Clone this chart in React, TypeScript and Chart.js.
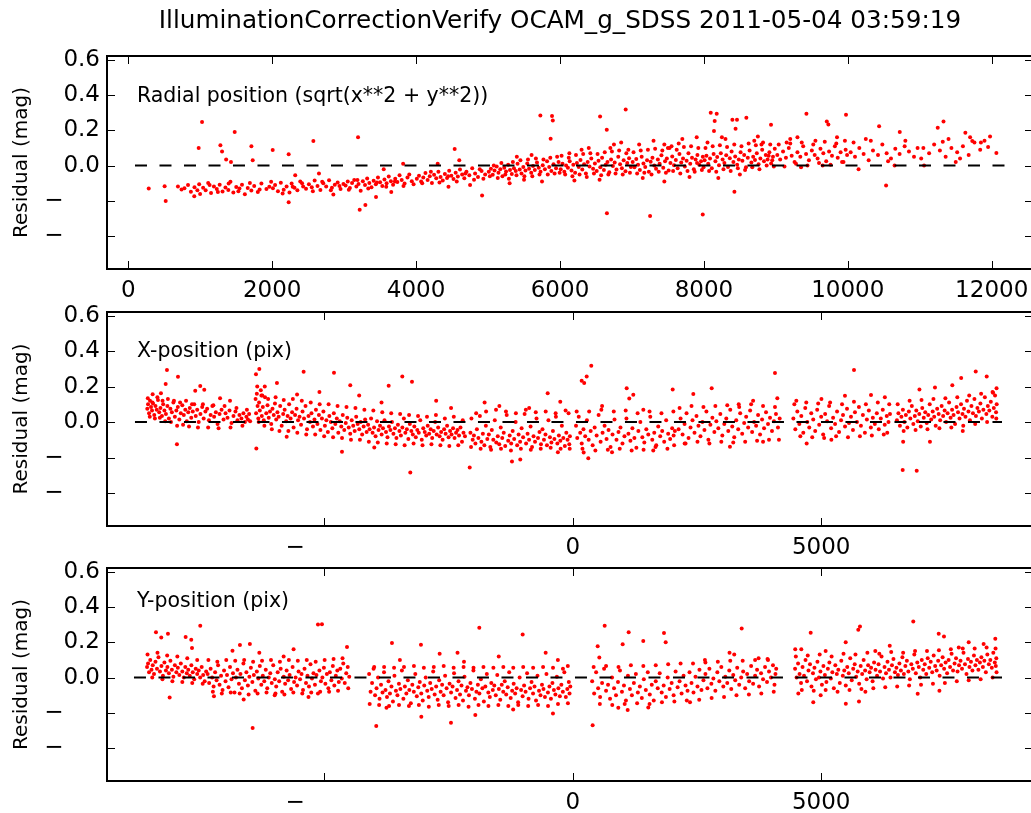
import React, { useEffect, useRef } from 'react';
import { Chart, registerables } from 'chart.js';

Chart.register(...registerables);

const FONT = '"DejaVu Sans", "Bitstream Vera Sans", sans-serif';
const TITLE = 'IlluminationCorrectionVerify OCAM_g_SDSS 2011-05-04 03:59:19';
const Y_LABEL = 'Residual (mag)';
const PANEL_LABELS = ['Radial position (sqrt(x**2 + y**2))', 'X-position (pix)', 'Y-position (pix)'];
const Y_TICKS = [0.6, 0.4, 0.2, 0.0, -0.2, -0.4];
const RADIAL_TICKS = [0, 2000, 4000, 6000, 8000, 10000, 12000];
const POS_TICKS = [-5000, 0, 5000];
const Y_RANGE = [-0.585, 0.62];
const RADIAL_RANGE = [-296, 12574];
const POS_RANGE = [-9376, 9264];
const RADIAL_ZERO = [93, 12254];
const XPOS_ZERO = [-8813, 8640];
const YPOS_ZERO = [-8833, 8640];

const radialPoints: [number, number][] = [
  [284,-0.13],[505,-0.117],[520,-0.2],[690,-0.118],[740,-0.135],[780,-0.128],[830,-0.11],[870,-0.148],[917,-0.173],[920,-0.122],[960,-0.139],[978,0.1],[985,-0.105],[998,-0.16],[1025,0.246],
  [1040,-0.125],[1075,-0.14],[1110,-0.098],[1150,-0.155],[1190,-0.118],[1230,-0.133],[1270,-0.108],[1280,0.115],[1303,0.08],[1310,-0.147],[1350,-0.124],[1360,0.035],[1390,-0.138],[1420,-0.092],[1427,0.02],[1460,-0.152],[1479,0.19],[1500,-0.121],[1545,-0.13],[1580,-0.108],[1620,-0.162],[1660,-0.127],[1710,-0.141],[1711,0.11],[1729,0.03],[1750,-0.115],[1800,-0.149],[1850,-0.101],[1920,-0.133],[1960,-0.12],
  [2007,0.088],[2010,-0.128],[2040,-0.11],[2080,-0.145],[2120,-0.097],[2160,-0.136],[2200,-0.118],[2229,0.064],[2229,-0.208],[2240,-0.152],[2270,-0.102],[2310,-0.125],[2320,-0.055],[2350,-0.14],[2390,-0.09],[2430,-0.118],[2470,-0.131],[2510,-0.106],[2550,-0.122],[2572,0.139],[2590,-0.085],[2630,-0.115],[2650,-0.045],[2670,-0.138],[2710,-0.1],[2750,-0.118],[2790,-0.083],[2830,-0.125],[2850,-0.163],[2870,-0.108],[2910,-0.095],[2950,-0.132],[2990,-0.104],
  [3020,-0.112],[3050,-0.09],[3080,-0.127],[3110,-0.099],[3140,-0.081],[3170,-0.118],[3193,0.161],[3200,-0.104],[3216,-0.25],[3230,-0.142],[3260,-0.088],[3290,-0.11],[3295,-0.223],[3320,-0.073],[3350,-0.098],[3380,-0.122],[3410,-0.086],[3440,-0.105],[3443,-0.177],[3470,-0.068],[3500,-0.094],[3530,-0.115],[3550,-0.02],[3560,-0.079],[3590,-0.1],[3620,-0.062],[3650,-0.088],[3655,-0.15],[3680,-0.109],[3710,-0.074],[3740,-0.093],[3770,-0.055],[3800,-0.082],[3820,0.01],[3840,-0.101],[3880,-0.067],[3940,-0.088],
  [4010,-0.075],[4040,-0.058],[4070,-0.09],[4100,-0.068],[4130,-0.042],[4160,-0.081],[4190,-0.06],[4220,-0.098],[4250,-0.052],[4280,-0.072],[4300,0.01],[4310,-0.035],[4340,-0.064],[4370,-0.085],[4400,-0.048],[4430,-0.07],[4450,-0.12],[4460,-0.029],[4490,-0.058],[4520,-0.076],[4536,0.094],[4550,-0.04],[4580,-0.062],[4600,0.03],[4610,-0.022],[4640,-0.05],[4670,-0.071],[4700,-0.035],[4740,-0.055],[4750,-0.11],[4780,-0.015],[4820,-0.045],[4860,-0.064],[4910,-0.03],[4917,-0.169],[4960,-0.05],
  [5010,-0.035],[5040,-0.018],[5065,-0.052],[5090,-0.028],[5120,-0.005],[5145,-0.04],[5170,-0.02],[5200,-0.06],[5225,-0.012],[5250,-0.033],[5280,0.005],[5300,-0.1],[5305,-0.025],[5330,-0.048],[5360,-0.015],[5385,-0.03],[5400,0.05],[5410,0.01],[5440,-0.022],[5465,-0.045],[5490,-0.008],[5500,-0.08],[5520,-0.028],[5545,0.012],[5570,-0.018],[5600,-0.04],[5605,0.06],[5625,-0.003],[5650,-0.025],[5680,0.018],[5705,-0.012],[5727,0.284],[5730,-0.035],[5750,-0.09],[5760,0.002],[5790,-0.02],[5820,0.025],[5850,-0.008],[5870,0.152],[5880,-0.03],[5889,0.28],[5900,0.255],[5910,0.008],[5945,-0.015],[5980,0.02],
  [6010,-0.02],[6035,0.01],[6060,-0.035],[6085,0.0],[6110,-0.012],[6130,0.07],[6135,0.025],[6160,-0.028],[6185,0.005],[6200,-0.085],[6210,-0.04],[6235,0.015],[6260,-0.008],[6285,0.032],[6300,0.09],[6310,-0.022],[6335,0.008],[6360,-0.045],[6385,0.02],[6400,0.1],[6410,-0.005],[6435,0.04],[6460,-0.018],[6485,0.012],[6510,-0.03],[6535,0.028],[6550,-0.08],[6557,0.278],[6560,-0.01],[6585,0.045],[6610,-0.025],[6635,0.005],[6650,0.203],[6652,-0.27],[6660,0.02],[6685,-0.038],[6710,0.035],[6735,-0.002],[6750,0.12],[6760,0.018],[6785,-0.022],[6810,0.05],[6835,0.008],[6850,0.13],[6860,-0.015],[6885,0.03],[6910,-0.032],[6913,0.317],[6935,0.015],[6960,0.042],[6985,-0.008],
  [7010,0.02],[7035,-0.01],[7060,0.038],[7085,0.005],[7100,0.12],[7110,-0.025],[7135,0.05],[7150,-0.07],[7160,0.012],[7185,-0.008],[7210,0.03],[7235,-0.035],[7252,-0.285],[7260,0.022],[7285,0.045],[7300,0.14],[7310,0.0],[7335,-0.018],[7360,0.035],[7385,0.01],[7410,0.058],[7435,-0.012],[7450,-0.09],[7460,0.025],[7485,0.04],[7500,0.1],[7510,-0.028],[7535,0.015],[7550,0.11],[7560,0.052],[7585,0.002],[7610,0.032],[7635,-0.015],[7660,0.065],[7685,0.018],[7700,0.15],[7710,0.04],[7735,-0.005],[7760,0.028],[7785,0.07],[7800,-0.065],[7810,0.01],[7835,0.045],[7860,-0.02],[7885,0.035],[7900,0.16],[7905,0.015],[7910,0.06],[7935,0.005],[7960,0.025],[7984,-0.276],[7985,0.05],[7995,-0.01],
  [8010,0.03],[8035,0.055],[8050,0.13],[8060,0.01],[8085,0.04],[8095,0.299],[8110,-0.015],[8135,0.065],[8140,0.195],[8150,0.252],[8160,0.025],[8178,0.293],[8185,0.048],[8200,-0.07],[8210,0.002],[8235,0.07],[8260,0.035],[8285,0.015],[8300,0.15],[8310,0.058],[8335,-0.008],[8360,0.042],[8385,0.08],[8396,0.259],[8410,0.02],[8424,-0.148],[8435,0.052],[8440,0.208],[8460,0.259],[8462,0.005],[8485,0.035],[8500,-0.05],[8510,0.075],[8535,0.028],[8560,0.06],[8585,-0.01],[8590,0.27],[8610,0.045],[8635,0.085],[8660,0.018],[8685,0.05],[8700,0.14],[8710,0.032],[8735,0.07],[8760,0.008],[8785,0.04],[8800,0.12],[8810,0.09],[8835,0.025],[8860,0.06],[8885,0.035],[8900,0.055],[8910,0.075],[8933,0.231],[8935,0.012],[8950,0.03],[8960,0.05],[8985,0.095],
  [9020,0.06],[9060,0.035],[9100,0.08],[9140,0.045],[9150,0.13],[9180,0.1],[9200,0.15],[9220,0.055],[9260,0.02],[9300,0.075],[9340,0.05],[9350,-0.01],[9380,0.11],[9420,0.065],[9425,0.293],[9460,0.03],[9500,0.085],[9540,0.06],[9550,0.14],[9580,0.04],[9620,0.095],[9650,0.0],[9660,0.07],[9700,0.025],[9708,0.25],[9730,0.233],[9740,0.08],[9780,0.055],[9820,0.11],[9850,0.16],[9860,0.045],[9900,0.075],[9940,0.02],[9970,0.09],[9975,0.287],[9990,0.06],
  [10040,0.075],[10100,0.05],[10150,-0.02],[10160,0.1],[10220,0.065],[10250,0.15],[10290,0.03],[10350,0.085],[10420,0.06],[10435,0.222],[10480,0.12],[10532,-0.113],[10540,0.07],[10600,0.04],[10650,0.0],[10660,0.095],[10720,0.065],[10722,0.19],[10790,0.11],[10850,0.08],[10920,0.05],[10970,0.1],
  [11050,0.1],[11060,0.0],[11130,0.07],[11200,0.12],[11250,0.214],[11280,0.085],[11330,0.25],[11360,0.05],[11400,0.15],[11440,0.1],[11500,0.02],[11520,0.075],[11600,0.11],[11634,0.186],[11680,0.06],[11700,0.16],[11730,0.139],[11760,0.13],[11840,0.09],[11850,0.131],[11950,0.105],[11977,0.165],[12065,0.071]
];

const radialDense: [number, number][] = [
  [1130,-0.11],[1245,-0.15],[1395,-0.102],[1530,-0.145],[1690,-0.098],[1825,-0.135],[1985,-0.092],[2145,-0.158],[2285,-0.12],[2415,-0.1],[2565,-0.145],[2695,-0.092],[2815,-0.14],[2935,-0.116],[3065,-0.136],[3185,-0.082],[3335,-0.13],[3455,-0.095],[3585,-0.12],[3705,-0.09],[3825,-0.115],[3905,-0.05],[3965,-0.105],[4085,-0.1],[4205,-0.035],[4325,-0.095],[4445,-0.06],[4565,-0.09],[4685,-0.045],[4805,-0.08],[4885,-0.02],[4935,-0.075],
  [5025,-0.06],[5080,0.0],[5135,-0.07],[5185,0.015],[5240,-0.05],[5290,-0.075],[5345,0.02],[5395,-0.055],[5450,0.03],[5505,-0.06],[5555,0.035],[5615,-0.06],[5665,0.04],[5715,-0.05],[5770,0.035],[5830,-0.05],[5865,0.045],[5925,-0.045],[5960,0.05],[5995,-0.04],
  [6022,0.055],[6072,-0.05],[6122,0.045],[6172,-0.06],[6222,0.06],[6272,-0.05],[6322,0.065],[6372,-0.065],[6422,0.07],[6472,-0.045],[6522,0.065],[6572,-0.055],[6622,0.075],[6672,-0.05],[6722,0.08],[6772,-0.045],[6822,0.085],[6872,-0.05],[6922,0.07],[6972,-0.04],[6950,0.09],[6700,0.1],
  [7022,0.075],[7072,-0.045],[7122,0.085],[7172,-0.04],[7222,0.09],[7272,-0.05],[7322,0.095],[7372,-0.035],[7422,0.085],[7472,-0.04],[7522,0.1],[7572,-0.03],[7622,0.09],[7672,-0.045],[7722,0.105],[7772,-0.03],[7822,0.11],[7872,-0.035],[7922,0.1],[7972,-0.025],[7450,0.12],[7650,0.125],
  [8022,0.1],[8072,-0.03],[8122,0.11],[8172,-0.035],[8222,0.115],[8272,-0.02],[8322,0.105],[8372,-0.03],[8422,0.12],[8472,-0.015],[8522,0.11],[8572,-0.025],[8622,0.125],[8672,-0.01],[8722,0.115],[8772,-0.02],[8822,0.13],[8872,0.0],[8922,0.12],[8972,-0.005],[8250,0.16],[8750,0.165],
  [9040,0.12],[9120,-0.005],[9200,0.125],[9280,0.01],[9360,0.13],[9440,0.0],[9520,0.12],[9600,0.015],[9680,0.135],[9760,0.005],[9840,0.125],[9920,0.02],[9960,0.14],[9300,0.16],
  [10080,0.13],[10320,0.14],[10560,0.025],[10800,0.14],[11020,0.04],[11320,0.135],[11560,0.04],[11900,0.14]
];

const xPoints: [number, number][] = [
  [-8565,0.075],[-8550,0.1],[-8530,0.05],[-8510,0.12],[-8490,0.085],[-8470,0.065],[-8457,0.157],[-8450,0.105],[-8425,0.04],[-8400,0.09],[-8375,0.07],[-8350,0.125],[-8325,0.055],[-8300,0.08],[-8290,0.163],[-8270,0.035],[-8245,0.1],[-8220,0.065],[-8195,0.214],[-8190,0.045],[-8169,0.293],[-8160,0.09],[-8130,0.02],[-8100,0.075],[-8070,0.055],[-8040,0.11],[-8010,0.03],[-7980,0.065],[-7968,-0.124],[-7950,0.085],[-7947,0.255],[-7920,0.015],[-7890,0.05],[-7860,0.095],[-7830,0.04],[-7800,0.07],[-7770,0.005],[-7740,0.055],[-7710,0.08],[-7680,0.025],[-7650,0.06],[-7620,0.1],[-7600,0.177],[-7590,0.035],[-7560,0.07],[-7530,0.0],[-7499,0.203],[-7495,0.045],[-7460,0.085],[-7430,0.02],[-7418,0.182],[-7395,0.06],[-7360,0.075],[-7325,0.01],[-7290,0.04],[-7255,0.09],[-7220,0.03],[-7185,0.055],[-7150,-0.01],[-7110,0.045],[-7100,0.135],[-7070,0.07],[-7030,0.015],[-6990,0.05],[-6950,0.025],[-6910,0.065],[-6900,0.12],[-6870,-0.005],[-6830,0.035],[-6790,0.06],[-6750,0.01],[-6710,0.04],[-6670,0.02],[-6630,0.05],[-6600,0.0],[-6570,0.03],[-6540,0.015],[-6515,0.045],[-6495,0.005],
  [-6385,0.13],[-6377,0.27],[-6375,0.05],[-6370,-0.148],[-6360,0.16],[-6345,0.09],[-6330,0.02],[-6315,0.11],[-6310,0.299],[-6300,0.065],[-6280,0.18],[-6260,0.035],[-6250,0.15],[-6240,0.085],[-6220,0.01],[-6200,0.2],[-6195,0.14],[-6170,0.05],[-6145,0.095],[-6120,0.025],[-6095,0.06],[-6070,-0.01],[-6045,0.075],[-6020,0.04],[-5995,0.105],[-5970,0.015],[-5955,0.22],[-5945,0.055],[-5920,0.03],[-5890,0.09],[-5860,-0.02],[-5830,0.045],[-5800,0.07],[-5770,0.005],[-5759,-0.083],[-5740,0.035],[-5710,0.1],[-5680,0.02],[-5650,0.055],[-5620,-0.03],[-5590,0.04],[-5560,0.075],[-5550,0.155],[-5530,0.01],[-5500,0.03],[-5470,-0.015],[-5440,0.06],[-5418,0.284],[-5410,0.02],[-5380,0.09],[-5350,-0.04],[-5320,0.035],[-5290,0.0],[-5260,0.05],[-5230,-0.025],[-5200,0.015],[-5170,0.07],[-5140,-0.01],[-5110,0.04],[-5100,0.17],[-5080,-0.045],[-5050,0.02],[-5020,0.06],[-4990,-0.02],[-4960,0.01],[-4930,-0.055],[-4900,0.035],[-4870,0.0],[-4840,-0.035],[-4810,0.05],[-4807,0.278],[-4780,-0.01],[-4750,0.02],[-4720,-0.06],[-4690,0.005],[-4660,-0.025],[-4646,-0.167],[-4630,0.04],[-4600,-0.045],[-4570,-0.005],[-4540,0.025],[-4510,-0.03],[-4480,-0.065],[-4479,0.208],[-4450,0.01],[-4420,-0.02],[-4390,-0.05],[-4360,0.03],[-4330,-0.01],[-4300,0.15],[-4298,-0.04],[-4270,0.0],[-4240,-0.07],[-4210,-0.025],[-4180,0.015],[-4150,-0.055],[-4120,-0.015],[-4090,-0.04],[-4060,0.02],[-4030,-0.06],[-4000,-0.03],[-3996,-0.143],[-3970,-0.08],[-3940,0.005],[-3910,-0.045],[-3880,-0.02],[-3850,0.11],[-3848,-0.07],[-3820,-0.035],[-3790,0.01],[-3760,-0.055],[-3730,-0.085],[-3706,0.205],[-3700,-0.025],[-3670,-0.045],[-3640,0.0],[-3610,-0.065],[-3580,-0.035],[-3550,-0.09],[-3520,-0.015],[-3490,-0.05],[-3460,-0.075],[-3432,0.257],[-3430,-0.03],[-3400,0.02],[-3370,-0.06],[-3340,-0.04],[-3310,-0.095],[-3280,-0.01],[-3271,-0.284],[-3250,-0.05],[-3237,0.227],[-3220,-0.07],[-3190,-0.025],[-3160,-0.085],[-3130,-0.045],[-3100,-0.06],[-3070,0.01],[-3040,-0.1],[-3010,-0.035],[-2980,-0.055],[-2950,-0.075],[-2920,-0.02],[-2890,-0.065],[-2860,-0.04],[-2830,-0.09],[-2800,-0.05],[-2770,0.0],[-2750,0.12],[-2740,-0.07],[-2710,-0.03],[-2680,-0.08],[-2650,-0.055],[-2620,-0.1],[-2590,-0.04],[-2560,-0.065],[-2530,-0.02],[-2500,-0.085],[-2470,-0.05],[-2450,0.08],[-2440,-0.07],[-2410,-0.035],[-2380,-0.09],[-2350,-0.06],[-2320,-0.045],[-2290,-0.075],[-2260,-0.03],[-2230,-0.11],[-2200,-0.06],[-2170,-0.08],
  [-2075,-0.255],[-2060,-0.06],[-2040,0.02],[-2015,-0.1],[-1990,-0.075],[-1960,-0.12],[-1930,-0.04],[-1900,-0.09],[-1870,0.035],[-1840,-0.11],[-1810,-0.065],[-1780,-0.13],[-1775,0.11],[-1750,-0.02],[-1720,-0.095],[-1690,-0.07],[-1660,-0.14],[-1630,-0.045],[-1600,-0.1],[-1570,0.01],[-1540,-0.115],[-1510,-0.08],[-1480,-0.125],[-1478,0.09],[-1450,-0.03],[-1420,-0.09],[-1390,-0.06],[-1360,-0.135],[-1330,0.04],[-1300,-0.105],[-1270,-0.075],[-1240,-0.12],[-1224,-0.222],[-1210,-0.05],[-1180,-0.095],[-1150,0.0],[-1120,-0.13],[-1090,-0.07],[-1060,-0.11],[-1057,-0.211],[-1030,-0.035],[-1000,-0.085],[-970,0.045],[-940,-0.12],[-910,-0.065],[-880,-0.1],[-878,0.08],[-850,-0.025],[-820,-0.14],[-790,-0.08],[-760,-0.11],[-730,0.02],[-700,-0.09],[-670,-0.055],[-640,-0.125],[-610,-0.04],[-580,-0.1],[-550,-0.07],[-520,-0.13],[-505,0.163],[-490,0.01],[-460,-0.085],[-430,-0.115],[-400,-0.05],[-370,-0.095],[-340,0.03],[-310,-0.12],[-300,-0.17],[-280,-0.075],[-252,0.115],[-250,-0.105],[-220,-0.02],[-190,-0.09],[-160,-0.135],[-130,-0.06],[-105,-0.1],[-85,0.05],[-70,-0.125],[-58,-0.08],
  [65,-0.02],[90,-0.09],[120,0.03],[150,-0.06],[179,0.233],[180,-0.12],[215,-0.04],[219,-0.171],[230,0.22],[250,-0.08],[280,0.257],[285,0.01],[312,-0.203],[320,-0.1],[360,-0.05],[372,0.317],[400,-0.13],[440,-0.03],[480,-0.075],[520,0.04],[560,-0.11],[590,0.09],[600,-0.06],[640,-0.02],[680,-0.095],[720,-0.045],[760,-0.14],[790,-0.17],[800,-0.07],[840,0.015],[880,-0.1],[920,-0.055],[960,-0.03],[1000,-0.12],[1040,-0.08],[1080,0.02],[1085,0.19],[1120,-0.065],[1137,0.133],[1160,-0.105],[1200,-0.035],[1218,0.154],[1240,-0.09],[1280,-0.145],[1320,-0.05],[1360,0.0],[1400,-0.085],[1420,0.07],[1440,-0.115],[1480,-0.04],[1520,-0.07],[1560,0.03],[1600,-0.1],[1620,-0.16],[1640,-0.06],[1680,-0.13],[1720,-0.025],[1760,-0.08],[1800,-0.05],[1840,-0.11],[1880,0.01],[1920,-0.065],[1960,-0.095],[2000,-0.035],[2011,0.184],[2030,-0.075],[2055,-0.05],
  [2130,-0.04],[2170,0.02],[2210,-0.07],[2250,-0.01],[2252,-0.12],[2290,0.05],[2330,-0.09],[2370,-0.03],[2410,0.01],[2426,0.158],[2450,-0.06],[2490,0.035],[2530,-0.02],[2570,-0.08],[2610,0.0],[2650,-0.045],[2690,0.06],[2730,-0.1],[2770,-0.015],[2796,0.19],[2810,0.025],[2850,-0.055],[2890,0.005],[2930,-0.035],[2970,0.045],[3010,-0.075],[3050,-0.01],[3090,0.02],[3130,-0.05],[3164,-0.139],[3170,0.07],[3210,-0.025],[3250,-0.085],[3290,0.01],[3330,-0.04],[3340,0.1],[3370,0.05],[3410,-0.065],[3450,-0.005],[3490,0.03],[3530,-0.03],[3570,0.065],[3610,-0.055],[3630,0.12],[3650,0.0],[3690,-0.02],[3730,0.04],[3770,-0.07],[3810,0.015],[3830,-0.11],[3850,-0.035],[3890,0.055],[3930,-0.01],[3970,0.025],[4010,-0.05],[4050,0.005],[4070,0.276],[4090,0.045],[4117,0.135],[4130,-0.03],[4165,0.02],
  [4440,0.02],[4480,-0.04],[4500,0.12],[4520,0.06],[4560,-0.01],[4600,0.035],[4640,-0.06],[4680,0.08],[4708,-0.12],[4720,0.0],[4760,-0.03],[4800,0.05],[4840,0.015],[4880,-0.05],[4920,0.07],[4960,-0.015],[5000,0.03],[5005,0.13],[5040,-0.07],[5080,0.045],[5120,0.005],[5160,0.09],[5200,-0.035],[5205,-0.1],[5240,0.025],[5280,-0.01],[5320,0.06],[5360,-0.055],[5400,0.01],[5440,0.04],[5479,0.148],[5480,-0.025],[5520,0.075],[5560,-0.005],[5600,0.03],[5640,-0.045],[5661,0.293],[5680,0.055],[5720,0.0],[5760,0.085],[5800,-0.02],[5840,0.04],[5880,-0.06],[5920,0.015],[5960,0.065],[6000,-0.03],[6003,0.152],[6040,0.025],[6080,-0.01],[6120,0.05],[6160,-0.04],[6200,0.02],[6240,0.07],[6280,-0.015],[6282,0.14],[6320,0.035],[6355,0.0],[6385,0.045],
  [6525,0.01],[6555,0.05],[6585,-0.02],[6615,0.03],[6641,-0.269],[6645,0.07],[6650,-0.11],[6675,0.0],[6705,0.04],[6735,-0.03],[6765,0.06],[6795,0.02],[6825,0.09],[6855,-0.01],[6885,0.035],[6915,0.065],[6923,-0.274],[6945,0.005],[6975,0.045],[6978,0.184],[7005,-0.025],[7035,0.08],[7065,0.025],[7095,0.055],[7125,-0.005],[7155,0.04],[7185,0.1],[7190,-0.11],[7215,0.015],[7245,0.06],[7275,0.03],[7291,0.195],[7305,-0.02],[7335,0.075],[7365,0.045],[7395,0.01],[7425,0.09],[7455,0.035],[7485,0.065],[7515,0.0],[7545,0.05],[7575,0.11],[7605,0.025],[7635,0.07],[7640,0.208],[7665,0.04],[7695,-0.01],[7725,0.085],[7755,0.055],[7785,0.02],[7815,0.1],[7818,0.248],[7845,0.045],[7850,-0.05],[7875,0.075],[7905,0.03],[7935,0.12],[7965,0.06],[7995,0.01],[8025,0.09],[8055,0.05],[8085,0.13],[8111,0.285],[8115,0.035],[8145,0.08],[8175,0.06],[8205,0.105],[8235,0.02],[8265,0.07],[8295,0.14],[8325,0.045],[8332,0.257],[8355,0.09],[8385,0.065],[8415,0.115],[8445,0.03],[8450,0.17],[8475,0.08],[8500,0.15],[8520,0.055],[8530,0.19],[8533,0.1]
];

const xDense: [number, number][] = [
  [-8555,0.135],[-8515,0.03],[-8462,0.11],[-8412,0.02],[-8362,0.14],[-8312,0.025],[-8258,0.12],[-8205,0.005],[-8150,0.13],[-8088,0.0],[-8028,0.12],[-7965,-0.02],[-7905,0.11],[-7845,-0.015],[-7785,0.12],[-7725,-0.025],[-7665,0.1],[-7545,-0.03],[-7445,0.1],[-7340,-0.03],[-7235,0.095],[-7130,-0.035],[-7010,0.09],[-6890,-0.03],[-6770,0.08],[-6650,-0.02],[-6560,0.07],
  [-6352,0.2],[-6322,0.0],[-6268,0.15],[-6208,-0.02],[-6132,0.13],[-6058,-0.04],[-5982,0.14],[-5905,-0.05],[-5818,0.125],[-5725,-0.05],[-5635,0.13],[-5545,-0.06],[-5455,0.12],[-5365,-0.07],[-5275,0.11],[-5185,-0.07],[-5095,0.1],[-5005,-0.08],[-4915,0.1],[-4825,-0.085],[-4735,0.09],[-4645,-0.09],[-4555,0.085],[-4465,-0.1],[-4375,0.08],[-4285,-0.1],[-4195,0.07],[-4105,-0.11],[-4015,0.065],[-3925,-0.115],[-3835,0.055],[-3745,-0.12],[-3655,0.05],[-3565,-0.125],[-3475,0.045],[-3385,-0.13],[-3295,0.04],[-3205,-0.12],[-3115,0.035],[-3025,-0.13],[-2935,0.03],[-2845,-0.125],[-2755,0.04],[-2665,-0.13],[-2575,0.02],[-2485,-0.135],[-2395,0.03],[-2305,-0.13],[-2215,0.01],
  [-2048,-0.14],[-1945,0.05],[-1855,-0.15],[-1745,0.06],[-1645,-0.155],[-1545,0.07],[-1445,-0.15],[-1345,0.06],[-1245,-0.16],[-1145,0.05],[-1045,-0.15],[-945,0.07],[-845,-0.155],[-745,0.055],[-645,-0.15],[-545,0.06],[-445,-0.145],[-345,0.05],[-245,-0.15],[-145,0.065],[-62,-0.15],
  [78,0.06],[195,-0.15],[330,0.06],[455,-0.16],[575,0.07],[705,-0.155],[825,0.06],[945,-0.15],[1065,0.065],[1185,-0.16],[1305,0.05],[1425,-0.155],[1545,0.06],[1665,-0.14],[1785,0.05],[1905,-0.15],[2025,0.06],[2040,-0.13],
  [2150,0.08],[2270,-0.12],[2390,0.09],[2510,-0.11],[2630,0.085],[2750,-0.12],[2870,0.09],[2990,-0.11],[3110,0.095],[3230,-0.115],[3350,0.085],[3470,-0.11],[3590,0.1],[3710,-0.105],[3830,0.09],[3950,-0.1],[4070,0.085],[4150,-0.1],
  [4460,0.1],[4580,-0.08],[4700,0.11],[4820,-0.085],[4940,0.105],[5060,-0.09],[5180,0.11],[5300,-0.08],[5420,0.1],[5540,-0.085],[5660,0.115],[5780,-0.08],[5900,0.1],[6020,-0.075],[6140,0.11],[6260,-0.07],[6370,0.1],[6330,-0.06],
  [6540,0.1],[6660,-0.05],[6780,0.12],[6900,-0.045],[7020,0.125],[7140,-0.04],[7260,0.13],[7380,-0.035],[7500,0.135],[7620,-0.03],[7740,0.14],[7860,-0.02],[7980,0.15],[8100,-0.01],[8220,0.16],[8340,0.0],[8460,0.165],[8525,0.02]
];

const yPoints: [number, number][] = [
  [-8570,0.06],[-8550,0.08],[-8530,0.03],[-8505,0.1],[-8480,0.045],[-8455,0.07],[-8430,0.02],[-8400,0.09],[-8390,0.257],[-8370,0.05],[-8340,0.115],[-8310,0.035],[-8284,0.227],[-8280,0.065],[-8250,0.01],[-8220,0.085],[-8190,0.04],[-8160,0.06],[-8149,0.248],[-8130,0.025],[-8115,-0.113],[-8100,0.095],[-8070,0.045],[-8040,0.005],[-8010,0.07],[-7980,0.03],[-7950,0.055],[-7920,0.015],[-7890,0.08],[-7860,0.035],[-7830,0.0],[-7800,0.06],[-7793,0.229],[-7770,0.025],[-7740,0.045],[-7710,0.01],[-7680,0.214],[-7678,0.07],[-7665,0.167],[-7650,0.03],[-7620,-0.01],[-7590,0.05],[-7560,0.02],[-7530,0.04],[-7500,0.0],[-7499,0.293],[-7470,0.06],[-7440,0.015],[-7410,-0.02],[-7380,0.035],
  [-7350,0.02],[-7320,-0.03],[-7290,0.05],[-7260,0.0],[-7230,-0.05],[-7223,-0.105],[-7200,0.03],[-7170,-0.015],[-7140,0.07],[-7110,-0.04],[-7080,0.01],[-7050,-0.07],[-7020,0.04],[-6990,-0.02],[-6960,0.015],[-6930,-0.055],[-6900,0.06],[-6870,-0.01],[-6850,0.152],[-6840,0.025],[-6810,-0.085],[-6780,0.0],[-6750,0.045],[-6720,-0.035],[-6700,0.185],[-6690,0.02],[-6660,-0.06],[-6630,0.08],[-6625,-0.124],[-6600,-0.015],[-6570,0.03],[-6540,-0.045],[-6510,0.005],[-6500,0.19],[-6480,0.055],[-6450,-0.025],[-6444,-0.285],[-6420,0.015],[-6390,-0.075],[-6360,0.035],[-6330,-0.005],[-6310,0.14],[-6300,0.065],[-6270,-0.04],[-6240,0.01],[-6210,-0.02],[-6180,0.045],[-6150,-0.06],[-6120,0.0],[-6090,0.025],[-6060,-0.03],[-6030,0.07],[-6000,-0.1],[-5998,-0.01],[-5970,-0.05],[-5940,0.03],[-5910,-0.02],[-5880,0.05],[-5850,-0.08],[-5820,0.12],[-5818,0.005],[-5790,-0.035],[-5760,0.04],[-5730,-0.015],[-5700,0.015],[-5670,-0.065],[-5640,0.06],[-5620,0.16],[-5610,-0.025],[-5580,0.0],[-5550,-0.045],[-5520,0.035],[-5490,-0.01],[-5460,0.02],[-5430,-0.07],[-5400,0.05],[-5370,-0.03],[-5340,0.01],[-5320,-0.11],[-5310,-0.05],[-5280,0.075],[-5250,-0.005],[-5220,0.025],[-5190,-0.04],[-5160,0.015],[-5129,0.3],[-5130,-0.09],[-5100,0.04],[-5070,-0.02],[-5049,0.302],[-5040,0.0],[-5010,0.055],[-4980,-0.035],[-4950,0.02],[-4920,-0.06],[-4890,0.03],[-4860,-0.015],[-4830,0.065],[-4800,-0.045],[-4770,0.01],[-4740,0.04],[-4710,-0.025],[-4680,0.05],[-4650,-0.005],[-4620,0.08],[-4590,-0.03],[-4560,0.025],[-4545,0.173],[-4530,0.06],[-4500,0.005],
  [-4100,0.02],[-4070,-0.08],[-4040,-0.03],[-4010,0.05],[-3980,-0.1],[-3956,-0.274],[-3950,-0.06],[-3920,0.0],[-3890,-0.12],[-3860,-0.04],[-3830,-0.085],[-3800,0.03],[-3770,-0.07],[-3750,-0.17],[-3740,-0.11],[-3710,-0.02],[-3680,-0.09],[-3650,-0.05],[-3640,0.195],[-3620,-0.135],[-3590,0.01],[-3560,-0.075],[-3530,-0.1],[-3500,-0.035],[-3480,0.1],[-3470,-0.065],[-3440,0.04],[-3410,-0.12],[-3380,-0.05],[-3350,-0.09],[-3320,-0.015],[-3290,-0.07],[-3260,-0.145],[-3230,-0.04],[-3200,-0.08],[-3170,0.02],[-3140,-0.105],[-3110,-0.055],[-3080,-0.025],[-3056,0.186],[-3050,-0.09],[-3049,-0.222],[-3020,-0.13],[-2990,-0.045],[-2960,0.0],[-2930,-0.075],[-2900,-0.11],[-2870,-0.03],[-2840,-0.065],[-2810,0.035],[-2780,-0.095],[-2750,-0.05],[-2720,-0.125],[-2690,-0.015],[-2680,0.135],[-2660,-0.08],[-2630,-0.04],[-2600,-0.1],[-2570,0.01],[-2540,-0.06],[-2510,-0.14],[-2480,-0.035],[-2452,-0.255],[-2450,-0.085],[-2420,-0.05],[-2390,0.025],[-2360,-0.115],[-2330,-0.07],[-2320,0.141],[-2300,-0.02],[-2270,-0.095],[-2240,-0.045],[-2210,-0.13],[-2190,0.09],[-2180,0.005],[-2150,-0.075],[-2120,-0.055],[-2090,-0.1],[-2060,-0.03],[-2030,-0.065],[-2000,0.04],[-1970,-0.12],[-1962,-0.212],[-1940,-0.08],[-1910,-0.04],[-1882,0.282],[-1880,-0.09],[-1850,-0.01],[-1820,-0.06],[-1790,-0.135],[-1760,-0.05],[-1730,0.02],[-1700,-0.085],[-1670,-0.11],[-1640,-0.03],[-1610,-0.07],[-1580,-0.045],[-1550,-0.1],[-1520,0.015],[-1490,0.12],[-1488,-0.065],[-1460,-0.125],[-1430,-0.04],[-1400,-0.08],[-1370,-0.02],[-1340,-0.095],[-1310,-0.055],[-1280,0.03],[-1250,-0.115],[-1220,-0.075],[-1200,-0.18],[-1190,-0.035],[-1160,-0.09],[-1130,-0.06],[-1100,-0.14],[-1070,0.0],[-1040,-0.07],[-1010,-0.105],[-1009,0.244],[-980,-0.045],[-950,-0.08],[-920,0.025],[-890,-0.12],[-860,-0.06],[-830,-0.025],[-800,-0.09],[-770,-0.05],[-740,-0.13],[-710,0.01],[-680,-0.075],[-650,-0.1],[-620,-0.04],[-590,-0.065],[-560,-0.11],[-546,0.141],[-530,0.02],[-500,-0.085],[-470,-0.05],[-440,-0.12],[-410,-0.03],[-399,-0.203],[-380,-0.07],[-350,-0.095],[-320,0.005],[-300,0.1],[-290,-0.06],[-260,-0.105],[-230,-0.04],[-200,-0.08],[-170,0.03],[-140,-0.11],[-110,-0.065],[-100,0.065],[-80,-0.025],[-65,-0.09],[-50,-0.05],
  [390,-0.02],[400,-0.27],[430,-0.09],[470,0.03],[501,0.178],[510,-0.06],[534,0.113],[550,-0.11],[590,-0.03],[630,0.05],[642,0.293],[670,-0.075],[710,-0.04],[750,-0.12],[790,0.0],[830,-0.06],[870,-0.1],[910,-0.025],[916,-0.171],[950,0.04],[990,-0.08],[1004,0.188],[1030,-0.045],[1070,-0.13],[1105,-0.184],[1110,0.01],[1125,0.257],[1150,-0.065],[1190,-0.1],[1230,-0.03],[1270,0.02],[1310,-0.085],[1350,-0.05],[1390,-0.115],[1419,0.207],[1430,-0.01],[1470,-0.07],[1510,0.03],[1520,-0.169],[1550,-0.095],[1590,-0.04],[1630,-0.13],[1670,-0.02],[1710,-0.06],[1750,0.025],[1790,-0.085],[1830,-0.045],[1836,0.252],[1870,0.2],[1875,-0.11],[1910,0.0],[1950,-0.065],[1990,-0.03],[2030,-0.1],[2070,0.035],[2110,-0.055],[2150,-0.02],[2190,-0.09],[2230,0.01],[2270,-0.045],[2310,-0.075],[2350,0.03],[2360,-0.14],[2390,-0.03],[2430,-0.085],[2470,0.005],[2510,-0.05],[2550,0.045],[2590,-0.07],[2630,-0.015],[2660,0.1],[2670,0.02],[2710,-0.06],[2750,0.05],[2790,-0.035],[2830,-0.005],[2870,-0.075],[2910,0.03],[2950,-0.02],[2990,0.06],[3030,-0.05],[3070,0.005],[3110,-0.03],[3150,0.04],[3155,0.14],[3190,-0.065],[3230,0.015],[3250,0.13],[3270,-0.015],[3310,0.055],[3350,-0.04],[3390,0.0],[3400,0.278],[3430,0.035],[3470,-0.06],[3510,0.02],[3550,-0.02],[3590,0.065],[3630,-0.035],[3670,0.01],[3710,0.045],[3740,0.11],[3750,-0.05],[3790,0.025],[3830,-0.01],[3870,0.06],[3910,-0.025],[3930,0.1],[3950,0.035],[3990,0.0],[4030,0.07],[4060,-0.04],[4080,0.02],[4095,0.05],
  [4475,0.05],[4478,0.16],[4505,0.0],[4535,0.08],[4540,-0.09],[4565,0.02],[4595,-0.03],[4600,0.16],[4625,0.06],[4655,0.01],[4685,0.1],[4715,-0.02],[4745,0.04],[4775,0.075],[4789,0.254],[4805,-0.05],[4835,0.025],[4841,-0.139],[4865,0.055],[4895,-0.01],[4925,0.09],[4955,0.0],[4985,0.035],[4990,-0.1],[5015,-0.04],[5045,0.065],[5075,0.015],[5090,0.15],[5105,-0.025],[5135,0.05],[5165,0.085],[5195,-0.005],[5225,0.03],[5255,-0.06],[5285,0.07],[5315,0.02],[5345,0.045],[5375,-0.03],[5405,0.095],[5435,0.01],[5465,0.04],[5494,0.2],[5495,-0.045],[5496,-0.148],[5525,0.06],[5555,0.025],[5585,0.11],[5615,-0.015],[5645,0.05],[5675,0.075],[5705,0.005],[5735,0.035],[5747,0.27],[5761,-0.135],[5765,-0.035],[5781,0.289],[5795,0.065],[5825,0.02],[5855,0.1],[5885,0.04],[5890,-0.08],[5915,-0.01],[5945,0.07],[5975,0.03],[6005,0.055],[6035,-0.02],[6065,0.085],[6090,0.15],[6095,0.045],[6125,0.01],[6155,0.075],[6185,0.035],[6215,0.12],[6245,-0.005],[6275,0.06],[6305,0.025],[6335,0.09],[6365,0.045],[6380,0.18],[6395,0.0],[6425,0.07],[6455,0.105],[6485,0.03],[6515,0.055],[6545,0.015],[6575,0.08],[6605,0.04],[6635,0.115],[6665,0.02],[6695,0.065],[6725,0.095],[6755,0.035],[6785,-0.01],[6815,0.075],[6845,0.05],[6854,0.317],[6875,0.13],[6905,0.025],[6935,0.085],[6943,-0.092],[6965,0.06],[6995,0.0],[7025,0.1],[7055,0.045],[7085,0.075],[7115,0.02],[7145,0.11],[7175,0.055],[7205,0.09],[7235,0.03],[7265,0.125],[7295,0.065],[7325,0.04],[7355,0.095],[7366,0.248],[7380,-0.075],[7385,0.01],[7415,0.07],[7445,0.115],[7472,0.233],[7475,0.05],[7505,0.085],[7535,0.025],[7565,0.1],[7595,0.06],[7625,0.135],[7655,0.04],[7685,0.08],[7715,0.11],[7745,0.035],[7770,0.17],[7775,0.07],[7805,0.095],[7835,0.05],[7865,0.14],[7895,0.075],[7925,0.02],[7955,0.105],[7970,0.2],[7985,0.06],[8015,0.09],[8045,0.04],[8075,0.125],[8105,0.07],[8135,0.1],[8165,0.045],[8195,0.085],[8225,0.115],[8255,0.06],[8270,0.19],[8285,0.095],[8315,0.03],[8345,0.13],[8375,0.075],[8405,0.1],[8435,0.055],[8465,0.14],[8495,0.085],[8505,0.22],[8515,0.065],[8525,0.11]
];

const yDense: [number, number][] = [
  [-8560,0.13],[-8465,0.0],[-8360,0.14],[-8260,-0.01],[-8165,0.125],[-8060,-0.02],[-7960,0.12],[-7860,-0.025],[-7760,0.11],[-7660,-0.03],[-7560,0.1],[-7450,-0.035],
  [-7335,0.1],[-7245,-0.08],[-7155,0.09],[-7065,-0.09],[-6975,0.1],[-6885,-0.085],[-6795,0.095],[-6705,-0.09],[-6615,0.1],[-6525,-0.095],[-6435,0.09],[-6345,-0.09],[-6255,0.095],[-6165,-0.085],[-6075,0.1],[-5985,-0.09],[-5895,0.09],[-5805,-0.095],[-5715,0.1],[-5625,-0.085],[-5535,0.095],[-5445,-0.09],[-5355,0.1],[-5265,-0.085],[-5175,0.09],[-5085,-0.08],[-4995,0.1],[-4905,-0.08],[-4815,0.105],[-4725,-0.075],[-4635,0.11],[-4520,-0.06],
  [-4088,-0.15],[-3998,0.06],[-3898,-0.155],[-3798,0.06],[-3698,-0.16],[-3598,0.055],[-3498,-0.155],[-3398,0.06],[-3298,-0.16],[-3198,0.065],[-3098,-0.155],[-2998,0.055],[-2898,-0.165],[-2798,0.06],[-2698,-0.155],[-2598,0.065],[-2498,-0.16],[-2398,0.055],[-2298,-0.155],[-2198,0.06],[-2098,-0.165],[-1998,0.055],[-1898,-0.155],[-1798,0.06],[-1698,-0.16],[-1598,0.055],[-1498,-0.155],[-1398,0.06],[-1298,-0.16],[-1198,0.055],[-1098,-0.155],[-998,0.06],[-898,-0.16],[-798,0.055],[-698,-0.155],[-598,0.06],[-498,-0.16],[-398,0.055],[-298,-0.15],[-198,0.05],[-98,-0.145],
  [420,0.06],[545,-0.15],[670,0.065],[795,-0.155],[920,0.06],[1045,-0.15],[1170,0.07],[1295,-0.145],[1420,0.065],[1545,-0.15],[1670,0.07],[1795,-0.14],[1920,0.075],[2045,-0.135],[2170,0.08],[2295,-0.13],[2420,0.08],[2545,-0.125],[2670,0.085],[2795,-0.115],[2920,0.09],[3045,-0.11],[3170,0.095],[3295,-0.1],[3420,0.095],[3545,-0.095],[3670,0.1],[3795,-0.09],[3920,0.105],[4045,-0.08],
  [4490,0.12],[4610,-0.07],[4730,0.125],[4850,-0.075],[4970,0.13],[5090,-0.07],[5210,0.12],[5330,-0.08],[5450,0.135],[5570,-0.07],[5690,0.13],[5810,-0.065],[5930,0.14],[6050,-0.06],[6170,0.135],[6290,-0.055],[6410,0.145],[6530,-0.05],[6650,0.14],[6770,-0.045],[6890,0.15],[7010,-0.04],[7130,0.15],[7250,-0.035],[7370,0.155],[7490,-0.03],[7610,0.16],[7730,-0.02],[7850,0.165],[7970,-0.015],[8090,0.165],[8210,-0.01],[8330,0.17],[8450,0.0],[8510,0.165],[8530,0.03]
];

type Panel = {
  points: [number, number][];
  ticks: number[];
  range: number[];
  zero: number[];
  label: string;
  top: number;
  bottom: number;
  labelDy: number;
  showTitle: boolean;
};

const PANELS: Panel[] = [
  { points: radialPoints.concat(radialDense), ticks: RADIAL_TICKS, range: RADIAL_RANGE, zero: RADIAL_ZERO, label: PANEL_LABELS[0], top: 56, bottom: 269, labelDy: 46, showTitle: true },
  { points: xPoints.concat(xDense), ticks: POS_TICKS, range: POS_RANGE, zero: XPOS_ZERO, label: PANEL_LABELS[1], top: 312, bottom: 526, labelDy: 45, showTitle: false },
  { points: yPoints.concat(yDense), ticks: POS_TICKS, range: POS_RANGE, zero: YPOS_ZERO, label: PANEL_LABELS[2], top: 568, bottom: 781, labelDy: 38.5, showTitle: false },
];

const W = 1031;
const H = 813;
const CANVAS_W = 1040;
const AREA_RIGHT = 1033;
const X_AXIS_H = 30;
const Y_AXIS_W = 107;
const TICK_LEN = 8;

function buildConfig(p: Panel): any {
  const framePlugin = {
    id: 'frameTicks',
    afterDatasetsDraw(chart: any) {
      const { ctx, chartArea } = chart;
      const { left, right, top, bottom } = chartArea;
      const xs = chart.scales.x;
      const ys = chart.scales.y;
      ctx.save();
      ctx.strokeStyle = '#000';
      ctx.lineWidth = 1;
      ctx.beginPath();
      p.ticks.forEach((v) => {
        const px = Math.round(xs.getPixelForValue(v)) + 0.5;
        ctx.moveTo(px, bottom);
        ctx.lineTo(px, bottom - TICK_LEN);
        ctx.moveTo(px, top);
        ctx.lineTo(px, top + TICK_LEN);
      });
      Y_TICKS.forEach((v) => {
        const py = Math.round(ys.getPixelForValue(v)) + 0.5;
        ctx.moveTo(left, py);
        ctx.lineTo(left + TICK_LEN, py);
        ctx.moveTo(right, py);
        ctx.lineTo(right - TICK_LEN, py);
      });
      ctx.stroke();
      ctx.lineWidth = 2;
      ctx.strokeRect(left, top, right - left, bottom - top);
      ctx.fillStyle = '#000';
      ctx.font = `20.5px ${FONT}`;
      ctx.textAlign = 'left';
      ctx.textBaseline = 'alphabetic';
      ctx.fillText(p.label, left + 30, top + p.labelDy);
      if (p.showTitle) {
        ctx.font = `24.7px ${FONT}`;
        ctx.textAlign = 'center';
        ctx.fillText(TITLE, 560, 28);
      }
      ctx.restore();
    },
  };

  return {
    type: 'scatter',
    data: {
      datasets: [
        {
          type: 'line',
          data: [{ x: p.zero[0], y: 0 }, { x: p.zero[1], y: 0 }],
          borderColor: '#000',
          borderWidth: 2,
          borderDash: [12, 12.5],
          pointRadius: 0,
          showLine: true,
          fill: false,
          order: 0,
        },
        {
          type: 'scatter',
          data: p.points.map(([x, y]) => ({ x, y })),
          backgroundColor: '#ff0000',
          borderWidth: 0,
          pointRadius: 2.0,
          pointHoverRadius: 0,
          order: 1,
        },
      ],
    },
    options: {
      animation: false,
      responsive: false,
      events: [],
      layout: { padding: { top: p.top, bottom: H - p.bottom - X_AXIS_H, left: 0, right: CANVAS_W - AREA_RIGHT } },
      plugins: { legend: { display: false }, tooltip: { enabled: false }, title: { display: false } },
      scales: {
        x: {
          type: 'linear',
          min: p.range[0],
          max: p.range[1],
          grid: { display: false, drawTicks: true, tickLength: 8 },
          border: { display: false },
          ticks: {
            color: '#000',
            font: { family: FONT, size: 23 },
            padding: 0,
            autoSkip: false,
            maxRotation: 0,
            callback: (v: number) => (v < 0 ? '\u2212\u2007\u2007\u2007\u2007' : String(v)),
          },
          afterBuildTicks: (s: any) => { s.ticks = p.ticks.map((v) => ({ value: v })); },
          afterFit: (s: any) => { s.height = X_AXIS_H; },
        },
        y: {
          type: 'linear',
          position: 'left',
          min: Y_RANGE[0],
          max: Y_RANGE[1],
          grid: { display: false, drawTicks: false },
          border: { display: false },
          title: {
            display: true,
            text: Y_LABEL,
            color: '#000',
            font: { family: FONT, size: 20 },
            padding: { top: 9.5, bottom: 0 },
          },
          ticks: {
            color: '#000',
            font: { family: FONT, size: 23 },
            padding: 7,
            autoSkip: false,
            callback: (v: number) => (v < 0 ? '\u2212\u2007\u2008\u2007' : Number(v).toFixed(1)),
          },
          afterBuildTicks: (s: any) => { s.ticks = Y_TICKS.map((v) => ({ value: v })); },
          afterFit: (s: any) => { s.width = Y_AXIS_W; },
        },
      },
    },
    plugins: [framePlugin],
  };
}

export default function App() {
  const r0 = useRef<HTMLCanvasElement>(null);
  const r1 = useRef<HTMLCanvasElement>(null);
  const r2 = useRef<HTMLCanvasElement>(null);

  useEffect(() => {
    const refs = [r0, r1, r2];
    const charts = PANELS.map((p, i) => new Chart(refs[i].current as HTMLCanvasElement, buildConfig(p)));
    return () => charts.forEach((c) => c.destroy());
  }, []);

  const canvasStyle: React.CSSProperties = { position: 'absolute', left: 0, top: 0, width: CANVAS_W, height: H };
  return (
    <div style={{ position: 'fixed', left: 0, top: 0, width: W, height: H, background: '#fff', overflow: 'hidden' }}>
      <canvas ref={r0} width={CANVAS_W} height={H} style={canvasStyle} />
      <canvas ref={r1} width={CANVAS_W} height={H} style={canvasStyle} />
      <canvas ref={r2} width={CANVAS_W} height={H} style={canvasStyle} />
    </div>
  );
}
